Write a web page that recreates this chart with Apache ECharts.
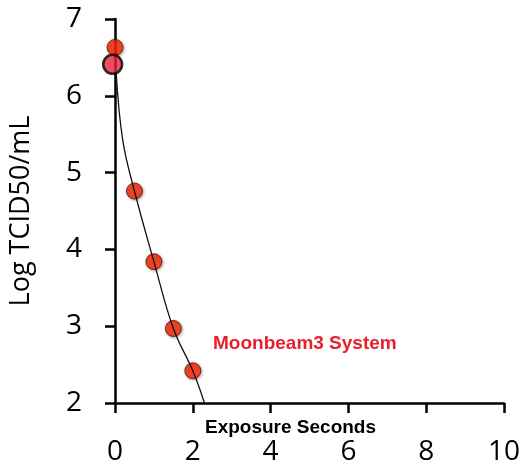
<!DOCTYPE html>
<html>
<head>
<meta charset="utf-8">
<script src="https://cdn.jsdelivr.net/npm/echarts@6/dist/echarts.min.js"></script>
<style>
  html, body { margin: 0; padding: 0; background: #fff; }
  #chart { width: 528px; height: 466px; }
</style>
</head>
<body>
<div id="chart"></div>
<script>
  // measured points (exposure seconds, log TCID50/mL)
  var pointX = [0, 0.5, 1.0, 1.5, 2.0]
  var pointY = [6.63, 4.76, 3.84, 2.97, 2.42]
  // start point drawn with a heavy outline
  var startX = [-0.06]
  var startY = [6.41]
  // fitted decay curve
  var curveX = [0.03, 0.2, 0.5, 1.0, 1.5, 2.0, 2.3]
  var curveY = [6.3, 5.42, 4.76, 3.84, 2.97, 2.42, 2.0]

  function pairs(xs, ys) {
    var out = []
    for (var i = 0; i < xs.length; i++) out.push([xs[i], ys[i]])
    return out
  }

  var chart = echarts.init(document.getElementById('chart'))
  var option = {
    animation: false,
    title: {
      text: 'Moonbeam3 System',
      left: 213,
      top: 334,
      padding: 0,
      textStyle: { color: '#e8202e', fontSize: 19, fontWeight: 'bold', fontFamily: 'Liberation Sans' }
    },
    grid: { left: 115, right: 24, top: 19, bottom: 63, containLabel: false, outerBoundsMode: 'none' },
    xAxis: {
      type: 'value', min: 0, max: 10, interval: 2,
      splitLine: { show: false },
      axisLine: { onZero: false, lineStyle: { color: '#000', width: 2.5 } },
      axisTick: { show: true, length: 10, lineStyle: { color: '#000', width: 2.5 } },
      axisLabel: { color: '#000', fontSize: 28, fontFamily: 'Open Sans', margin: 35 },
      name: 'Exposure Seconds', nameLocation: 'middle', nameGap: 15, nameMoveOverlap: false,
      nameTextStyle: { color: '#000', fontSize: 19, fontWeight: 'bold', fontFamily: 'Liberation Sans', padding: [0, 38, 0, 0] }
    },
    yAxis: {
      type: 'value', min: 2, max: 7, interval: 1,
      splitLine: { show: false },
      axisLine: { onZero: false, lineStyle: { color: '#000', width: 2.5 } },
      axisTick: { show: true, length: 10, lineStyle: { color: '#000', width: 2.5 } },
      axisLabel: { color: '#000', fontSize: 28, fontFamily: 'Open Sans', margin: 33 },
      name: 'Log TCID50/mL', nameLocation: 'middle', nameRotate: 90, nameGap: 80, nameMoveOverlap: false,
      nameTextStyle: { color: '#000', fontSize: 27, fontFamily: 'Open Sans' }
    },
    series: [
      {
        type: 'line',
        data: pairs(curveX, curveY),
        smooth: 0.4,
        symbol: 'none',
        lineStyle: { color: '#111', width: 1.3 }
      },
      {
        type: 'scatter',
        data: pairs(pointX, pointY),
        symbolSize: 16,
        clip: false,
        itemStyle: {
          color: '#ff2600', borderColor: '#5a1000', borderWidth: 1,
          shadowBlur: 3, shadowColor: 'rgba(0,0,0,0.4)', shadowOffsetX: 1, shadowOffsetY: 1
        }
      },
      {
        type: 'scatter',
        data: pairs(startX, startY),
        symbolSize: 19,
        clip: false,
        itemStyle: { color: '#e8203a', borderColor: '#000', borderWidth: 2.5 }
      }
    ]
  }
  chart.setOption(option)
</script>
</body>
</html>
